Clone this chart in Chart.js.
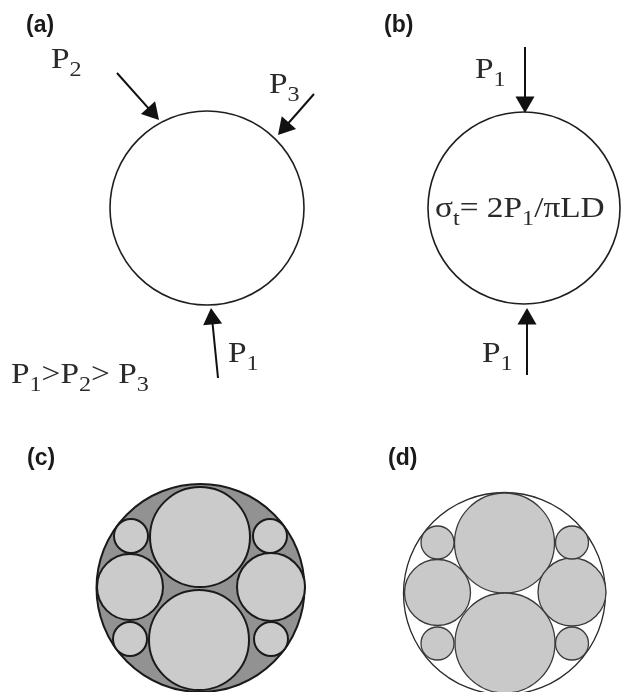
<!DOCTYPE html>
<html>
<head>
<meta charset="utf-8">
<script src="https://cdn.jsdelivr.net/npm/chart.js@4.4.1/dist/chart.umd.min.js"></script>
<style>
  html, body { margin: 0; padding: 0; background: #fff; }
  #wrap { width: 622px; height: 692px; }
</style>
</head>
<body>
<div id="wrap"><canvas id="fig" width="622" height="692"></canvas></div>
<script>
// discs loaded in (a) and (b)
const discX = [207, 524];
const discY = [208, 208];
const discR = [97, 96];

// outer shells of the packed sections (c) and (d)
const shellX = [200.5, 504.5];
const shellY = [588, 593.5];
const shellR = [104, 101];

// fibres inside (c)
const rodsCX = [200, 199, 130, 271, 131, 270, 130, 271];
const rodsCY = [537, 640, 587, 587, 536, 536, 639, 639];
const rodsCR = [50, 50, 33, 34, 17, 17, 17, 17];

// fibres inside (d)
const rodsDX = [504.5, 505, 437.5, 572, 437.5, 572, 437.5, 572];
const rodsDY = [543, 643, 592.5, 592, 542.5, 542.5, 643.5, 643.5];
const rodsDR = [50, 50, 33, 34, 16.5, 16.5, 16.5, 16.5];

// load arrows: tail -> tip
const arrowTail = [[117, 73], [314, 94], [218, 378], [525, 47], [527, 375]];
const arrowTip = [[159, 120], [278, 135], [211, 308], [525, 113], [527, 308]];

// panel letters
const panelText = ["(a)", "(b)", "(c)", "(d)"];
const panelPos = [[26, 32], [384, 32], [27, 465], [388, 465]];

// force / formula labels ("_" = next char is subscript)
const noteText = ["P_2", "P_3", "P_1", "P_1>P_2> P_3", "P_1", "P_1", "σ_t= 2P_1/πLD"];
const notePos = [[51, 68], [269, 93], [228, 362], [11, 383], [475, 78], [482, 362], [435, 217]];

const HEAD = 11;
const SERIF = 29;
const STRETCH = 1.15;

const bubbles = (xs, ys, rs) => xs.map((x, i) => ({ x: x, y: ys[i], r: rs[i] }));

const heads = arrowTip.map((t, i) => {
  const dx = t[0] - arrowTail[i][0];
  const dy = t[1] - arrowTail[i][1];
  const len = Math.hypot(dx, dy);
  return { x: t[0] - HEAD * dx / len, y: t[1] - HEAD * dy / len,
           rot: Math.atan2(dx, -dy) * 180 / Math.PI };
});

const datasets = [];

datasets.push({
  type: "bubble", order: 20,
  data: bubbles(discX, discY, discR),
  backgroundColor: "#ffffff", borderColor: "#1e1e1e", borderWidth: 1.6
});
datasets.push({
  type: "bubble", order: 20,
  data: [{ x: shellX[0], y: shellY[0], r: shellR[0] }],
  backgroundColor: "#929292", borderColor: "#1a1a1a", borderWidth: 2
});
datasets.push({
  type: "bubble", order: 20,
  data: [{ x: shellX[1], y: shellY[1], r: shellR[1] }],
  backgroundColor: "#ffffff", borderColor: "#2a2a2a", borderWidth: 1.3
});
datasets.push({
  type: "bubble", order: 10,
  data: bubbles(rodsCX, rodsCY, rodsCR),
  backgroundColor: "#cbcbcb", borderColor: "#1a1a1a", borderWidth: 2
});
datasets.push({
  type: "bubble", order: 10,
  data: bubbles(rodsDX, rodsDY, rodsDR),
  backgroundColor: "#c9c9c9", borderColor: "#3a3a3a", borderWidth: 1.3
});

arrowTail.forEach((t, i) => {
  datasets.push({
    type: "line", order: 5,
    data: [{ x: t[0], y: t[1] }, { x: heads[i].x, y: heads[i].y }],
    borderColor: "#111", borderWidth: 2, pointRadius: 0, fill: false
  });
});

datasets.push({
  type: "scatter", order: 1,
  data: heads.map(h => ({ x: h.x, y: h.y })),
  pointStyle: "triangle",
  pointRadius: HEAD,
  rotation: heads.map(h => h.rot),
  backgroundColor: "#111", borderColor: "#111", borderWidth: 0
});

// serif text with single-char subscripts, slightly widened like the scan
function drawRich(ctx, str, x, y, size) {
  ctx.save();
  ctx.translate(x, y);
  ctx.scale(STRETCH, 1);
  let cx = 0;
  for (let i = 0; i < str.length; i++) {
    let ch = str[i];
    let sub = false;
    if (ch === "_") { sub = true; i++; ch = str[i]; }
    ctx.font = (sub ? Math.round(size * 0.72) : size) + "px 'Liberation Serif', 'Times New Roman', serif";
    ctx.fillText(ch, cx, sub ? size * 0.28 : 0);
    cx += ctx.measureText(ch).width;
  }
  ctx.restore();
}

const textPlugin = {
  id: "notes",
  afterDraw(chart) {
    const ctx = chart.ctx;
    const xs = chart.scales.x, ys = chart.scales.y;
    ctx.save();
    ctx.fillStyle = "#1a1a1a";
    ctx.textBaseline = "alphabetic";
    ctx.textAlign = "left";
    ctx.font = "bold 23px 'Liberation Sans', Arial, sans-serif";
    panelText.forEach((t, i) => {
      ctx.fillText(t, xs.getPixelForValue(panelPos[i][0]), ys.getPixelForValue(panelPos[i][1]));
    });
    ctx.fillStyle = "#2a2a2a";
    noteText.forEach((t, i) => {
      drawRich(ctx, t, xs.getPixelForValue(notePos[i][0]), ys.getPixelForValue(notePos[i][1]), SERIF);
    });
    ctx.restore();
  }
};

new Chart(document.getElementById("fig"), {
  data: { datasets: datasets },
  options: {
    responsive: false,
    animation: false,
    events: [],
    layout: { padding: 0, autoPadding: false },
    plugins: { legend: { display: false }, tooltip: { enabled: false } },
    scales: {
      x: { type: "linear", min: 0, max: 622, display: false },
      y: { type: "linear", min: 0, max: 692, reverse: true, display: false }
    }
  },
  plugins: [textPlugin]
});
</script>
</body>
</html>
